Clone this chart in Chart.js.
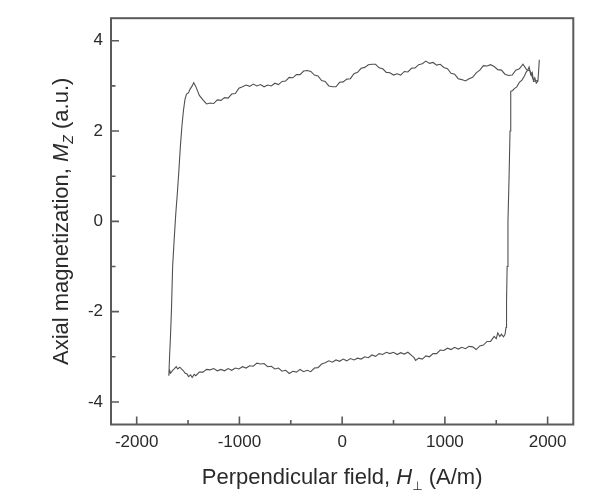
<!DOCTYPE html>
<html><head><meta charset="utf-8">
<script src="https://cdn.jsdelivr.net/npm/chart.js@4.4.0/dist/chart.umd.min.js"></script>
<style>html,body{margin:0;padding:0;background:#fff}</style>
</head><body>
<canvas id="c" width="616" height="495"></canvas>
<script>
// Upper branch (field sweeping down), H in A/m, M in a.u.
const upperH = [1900,1865,1830,1795,1760,1725,1690,1655,1620,1585,1550,1515,1480,1445,1410,1375,1340,1305,1270,1235,1200,1165,1130,1095,1060,1025,990,955,920,885,850,815,780,745,710,675,640,605,570,535,500,465,430,395,360,325,290,255,220,185,150,115,80,45,10,-25,-60,-95,-130,-165,-200,-235,-270,-305,-340,-375,-410,-445,-480,-515,-550,-585,-620,-655,-690,-725,-760,-795,-830,-865,-900,-935,-970,-1005,-1040,-1075,-1110,-1145,-1180,-1215,-1250,-1285,-1320,-1355,-1390,-1425,-1445,-1460,-1480,-1495,-1515,-1530,-1545,-1560,-1575,-1590,-1605,-1620,-1635,-1650,-1662,-1672,-1680,-1687];
const upperM = [3.12,3.10,3.33,3.36,3.48,3.38,3.35,3.24,3.23,3.26,3.35,3.36,3.43,3.47,3.44,3.45,3.35,3.29,3.19,3.16,3.11,3.14,3.16,3.26,3.28,3.38,3.41,3.48,3.46,3.52,3.50,3.55,3.49,3.47,3.40,3.39,3.31,3.32,3.24,3.27,3.24,3.29,3.30,3.38,3.40,3.48,3.48,3.47,3.41,3.39,3.30,3.27,3.16,3.15,3.09,3.08,2.98,2.98,3.00,3.10,3.12,3.22,3.24,3.32,3.34,3.33,3.25,3.25,3.18,3.19,3.11,3.10,3.03,3.06,3.00,3.02,2.98,3.03,3.00,3.04,2.99,3.02,2.98,2.95,2.83,2.82,2.73,2.74,2.68,2.69,2.61,2.62,2.60,2.69,2.79,2.99,3.07,3.00,2.93,2.85,2.82,2.70,2.45,2.10,1.65,1.10,0.60,0.15,-0.40,-1.00,-2.00,-2.60,-3.00,-3.42];
// Lower branch (field sweeping up)
const lowerH = [-1680,-1670,-1650,-1635,-1615,-1600,-1580,-1565,-1545,-1530,-1510,-1495,-1475,-1460,-1440,-1425,-1390,-1355,-1320,-1285,-1250,-1215,-1180,-1145,-1110,-1075,-1040,-1005,-970,-935,-900,-865,-830,-795,-760,-725,-690,-655,-620,-585,-550,-515,-480,-445,-410,-375,-340,-305,-270,-235,-200,-165,-130,-95,-60,-25,10,45,80,115,150,185,220,255,290,325,360,395,430,465,500,535,570,605,640,675,700,715,745,780,815,850,885,920,955,990,1025,1060,1095,1130,1165,1200,1235,1270,1305,1340,1375,1410,1445,1480,1500,1515,1535,1550,1570,1585,1595,1600,1606,1614,1625,1634,1641,1660,1676,1700,1725,1750,1774,1790,1806,1820,1835,1850,1862,1875,1890,1905,1912,1919];
const lowerM = [-3.30,-3.36,-3.30,-3.27,-3.22,-3.27,-3.23,-3.27,-3.31,-3.36,-3.38,-3.44,-3.40,-3.46,-3.39,-3.42,-3.34,-3.34,-3.28,-3.29,-3.26,-3.31,-3.28,-3.31,-3.26,-3.30,-3.25,-3.27,-3.22,-3.25,-3.20,-3.21,-3.14,-3.16,-3.15,-3.22,-3.21,-3.27,-3.25,-3.32,-3.30,-3.37,-3.32,-3.34,-3.28,-3.33,-3.30,-3.33,-3.25,-3.24,-3.16,-3.13,-3.09,-3.12,-3.07,-3.10,-3.05,-3.09,-3.04,-3.07,-3.03,-3.05,-3.00,-3.02,-2.96,-2.99,-2.93,-2.95,-2.90,-2.93,-2.90,-2.95,-2.91,-2.94,-2.90,-2.97,-3.02,-3.08,-3.03,-3.05,-2.98,-3.00,-2.93,-2.93,-2.85,-2.86,-2.81,-2.84,-2.79,-2.83,-2.79,-2.82,-2.77,-2.78,-2.84,-2.76,-2.74,-2.66,-2.66,-2.55,-2.60,-2.47,-2.55,-2.50,-2.56,-2.51,-2.35,-1.80,-1.00,0.00,1.00,2.00,2.88,2.90,2.94,2.98,3.08,3.13,3.22,3.30,3.35,3.42,3.25,3.30,3.12,3.18,3.06,3.10,3.30,3.58];

const xTicks = [-2000,-1000,0,1000,2000];
const xMinorTicks = [-1500,-500,500,1500];
const yTicks = [-4,-2,0,2,4];
const yMinorTicks = [-3,-1,1,3];
const xTitleParts = [
  {t:'Perpendicular field, ', style:'normal', size:22, dy:0},
  {t:'H', style:'italic', size:22, dy:0},
  {t:'\u22A5', style:'normal', size:12, dy:6},
  {t:' (A/m)', style:'normal', size:22, dy:0}
];
const yTitleParts = [
  {t:'Axial magnetization, ', style:'normal', size:22, dy:0},
  {t:'M', style:'italic', size:22, dy:0},
  {t:'Z', style:'italic', size:14, dy:5},
  {t:' (a.u.)', style:'normal', size:22, dy:0}
];

const points = [];
upperH.forEach((h,i)=>points.push({x:h, y:upperM[i]}));
lowerH.forEach((h,i)=>points.push({x:h, y:lowerM[i]}));

const FONT = "'Liberation Sans', Arial, 'DejaVu Sans', sans-serif";
const AXIS_COLOR = '#5a5a5a';
const TEXT_COLOR = '#2a2a2a';

function drawRich(ctx, parts, cx, cy){
  let total = 0;
  parts.forEach(p=>{ ctx.font = p.style+' '+p.size+'px '+FONT; p.w = ctx.measureText(p.t).width; total += p.w; });
  let x = cx - total/2;
  ctx.textAlign = 'left'; ctx.textBaseline = 'alphabetic';
  parts.forEach(p=>{ ctx.font = p.style+' '+p.size+'px '+FONT; ctx.fillText(p.t, x, cy + p.dy); x += p.w; });
}

const framePlugin = {
  id:'frame',
  afterDraw(chart){
    const ctx = chart.ctx, a = chart.chartArea, xs = chart.scales.x, ys = chart.scales.y;
    ctx.save();
    ctx.strokeStyle = AXIS_COLOR; ctx.lineWidth = 1.6;
    ctx.beginPath();
    xTicks.forEach(v=>{ const px = xs.getPixelForValue(v); ctx.moveTo(px, a.bottom); ctx.lineTo(px, a.bottom-8); });
    xMinorTicks.forEach(v=>{ const px = xs.getPixelForValue(v); ctx.moveTo(px, a.bottom); ctx.lineTo(px, a.bottom-4.5); });
    yTicks.forEach(v=>{ const py = ys.getPixelForValue(v); ctx.moveTo(a.left, py); ctx.lineTo(a.left+8, py); });
    yMinorTicks.forEach(v=>{ const py = ys.getPixelForValue(v); ctx.moveTo(a.left, py); ctx.lineTo(a.left+4.5, py); });
    ctx.stroke();
    ctx.lineWidth = 2;
    ctx.strokeRect(a.left, a.top, a.right-a.left, a.bottom-a.top);
    ctx.fillStyle = TEXT_COLOR;
    drawRich(ctx, xTitleParts, (a.left+a.right)/2, 484);
    ctx.translate(68, (a.top+a.bottom)/2);
    ctx.rotate(-Math.PI/2);
    drawRich(ctx, yTitleParts, 0, 0);
    ctx.restore();
  }
};

new Chart(document.getElementById('c'), {
  type:'scatter',
  data:{ datasets:[{ data:points, showLine:true, borderColor:'#505050', borderWidth:1.1, pointRadius:0, tension:0, fill:false }]},
  options:{
    responsive:false, animation:false, devicePixelRatio:1,
    layout:{ padding:{ top:14.5, right:42.7, left:0, bottom:0 } },
    plugins:{ legend:{display:false}, tooltip:{enabled:false} },
    scales:{
      x:{ type:'linear', min:-2250, max:2250,
          grid:{display:false, drawTicks:false}, border:{display:false},
          ticks:{ font:{family:FONT, size:17}, color:TEXT_COLOR, padding:8, maxRotation:0, autoSkip:false, callback:v=>String(v) },
          afterBuildTicks:s=>{ s.ticks = xTicks.map(v=>({value:v})); },
          afterFit:s=>{ s.height = 70.5; } },
      y:{ type:'linear', min:-4.5, max:4.5,
          grid:{display:false, drawTicks:false}, border:{display:false},
          ticks:{ font:{family:FONT, size:17}, color:TEXT_COLOR, padding:8, autoSkip:false, callback:v=>String(v) },
          afterBuildTicks:s=>{ s.ticks = yTicks.map(v=>({value:v})); },
          afterFit:s=>{ s.width = 111; } }
    }
  },
  plugins:[framePlugin]
});
</script>
</body></html>
